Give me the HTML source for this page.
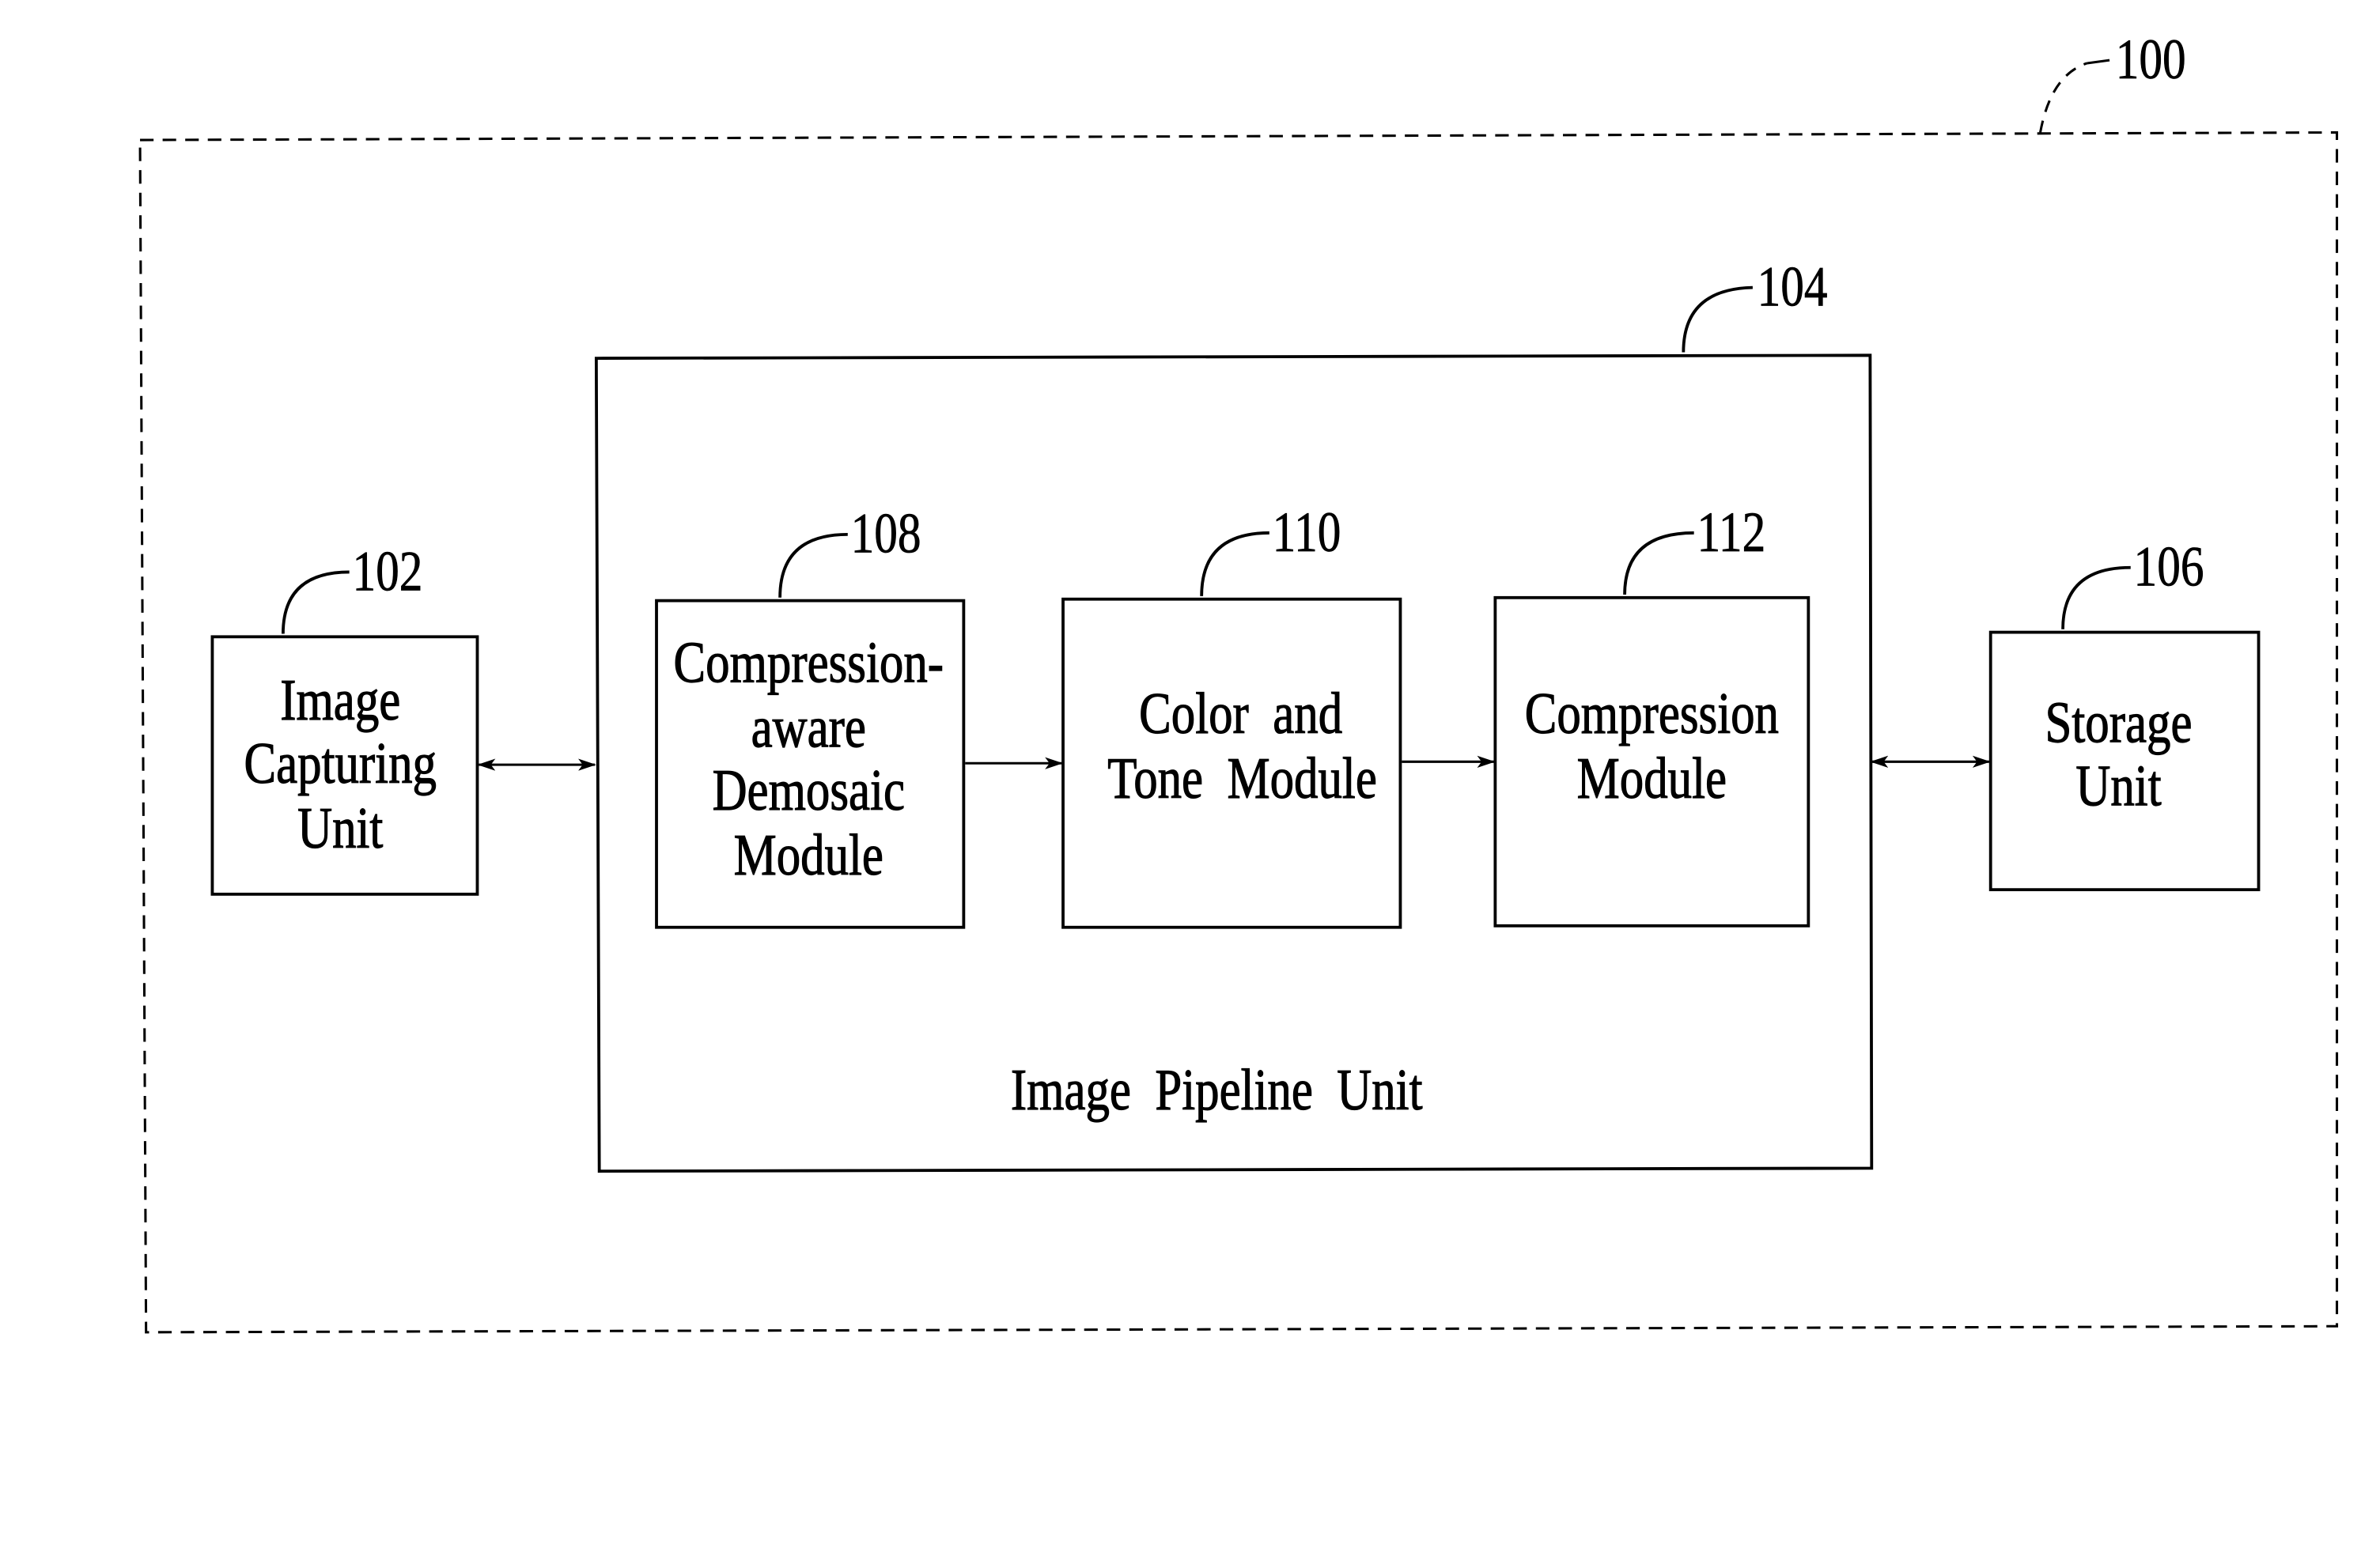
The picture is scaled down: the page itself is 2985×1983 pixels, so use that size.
<!DOCTYPE html>
<html><head><meta charset="utf-8"><style>html,body{margin:0;padding:0;background:#fff}svg{display:block}</style></head>
<body>
<svg width="2985" height="1983" viewBox="0 0 1568 1041.6" preserveAspectRatio="none" xmlns="http://www.w3.org/2000/svg">
<defs>
<marker id="a" markerWidth="12" markerHeight="8" refX="11" refY="4" orient="auto-start-reverse" markerUnits="userSpaceOnUse"><path d="M0,0 L12,4 L0,8 L3,4 Z" fill="#000"/></marker>
</defs>
<g fill="none" stroke="#000" stroke-width="2">
<polygon points="93,93 1552,88 1552,881 97,885" stroke-dasharray="9,6" stroke-width="1.6"/>
<path d="M1355,88 Q1362,50 1386,42" stroke-dasharray="8,6" stroke-width="1.6"/>
<path d="M1386,42 L1401,40" stroke-width="1.6"/>
<polygon points="396,238 1242,236 1243,776 398,778"/>
<path d="M1118,234 Q1118,192 1164,191"/>
<rect x="141" y="423" width="176" height="171"/>
<path d="M188,421 Q188,380 232,380"/>
<rect x="436" y="399" width="204" height="217"/>
<path d="M518,397 Q518,355 563,355"/>
<rect x="706" y="398" width="224" height="218"/>
<path d="M798,396 Q798,354 843,354"/>
<rect x="993" y="397" width="208" height="218"/>
<path d="M1079,395 Q1079,354 1125,354"/>
<rect x="1322" y="420" width="178" height="171"/>
<path d="M1370,418 Q1370,377 1415,377"/>
<line x1="318" y1="508" x2="395" y2="508" marker-start="url(#a)" marker-end="url(#a)" stroke-width="1.6"/>
<line x1="641" y1="507" x2="705" y2="507" marker-end="url(#a)" stroke-width="1.6"/>
<line x1="931" y1="506" x2="992" y2="506" marker-end="url(#a)" stroke-width="1.6"/>
<line x1="1243" y1="506" x2="1321" y2="506" marker-start="url(#a)" marker-end="url(#a)" stroke-width="1.6"/>
</g>
<g font-family="Liberation Serif, serif" font-size="39" fill="#000" stroke="#000" stroke-width="0.6" text-anchor="middle">
<g transform="translate(226,478) scale(0.82,1)"><text>Image</text></g>
<g transform="translate(226,520) scale(0.82,1)"><text>Capturing</text></g>
<g transform="translate(226,563) scale(0.82,1)"><text>Unit</text></g>
<g transform="translate(537,453) scale(0.82,1)"><text>Compression-</text></g>
<g transform="translate(537,496) scale(0.82,1)"><text>aware</text></g>
<g transform="translate(537,538) scale(0.82,1)"><text>Demosaic</text></g>
<g transform="translate(537,581) scale(0.82,1)"><text>Module</text></g>
<g transform="translate(824,487) scale(0.82,1)"><text xml:space="preserve">Color  and</text></g>
<g transform="translate(825,530) scale(0.82,1)"><text xml:space="preserve">Tone  Module</text></g>
<g transform="translate(1097,487) scale(0.82,1)"><text>Compression</text></g>
<g transform="translate(1097,530) scale(0.82,1)"><text>Module</text></g>
<g transform="translate(1407,493) scale(0.82,1)"><text>Storage</text></g>
<g transform="translate(1407,535) scale(0.82,1)"><text>Unit</text></g>
<g transform="translate(808,737) scale(0.82,1)"><text xml:space="preserve">Image  Pipeline  Unit</text></g>
</g>
<g font-family="Liberation Serif, serif" font-size="38" fill="#000" stroke="#000" stroke-width="0.4" text-anchor="start">
<g transform="translate(1405,52) scale(0.82,1)"><text>100</text></g>
<g transform="translate(1167,203) scale(0.82,1)"><text>104</text></g>
<g transform="translate(234,392) scale(0.82,1)"><text>102</text></g>
<g transform="translate(565,367) scale(0.82,1)"><text>108</text></g>
<g transform="translate(845,366) scale(0.82,1)"><text>110</text></g>
<g transform="translate(1127,366) scale(0.82,1)"><text>112</text></g>
<g transform="translate(1417,389) scale(0.82,1)"><text>106</text></g>
</g>
</svg>
</body></html>
